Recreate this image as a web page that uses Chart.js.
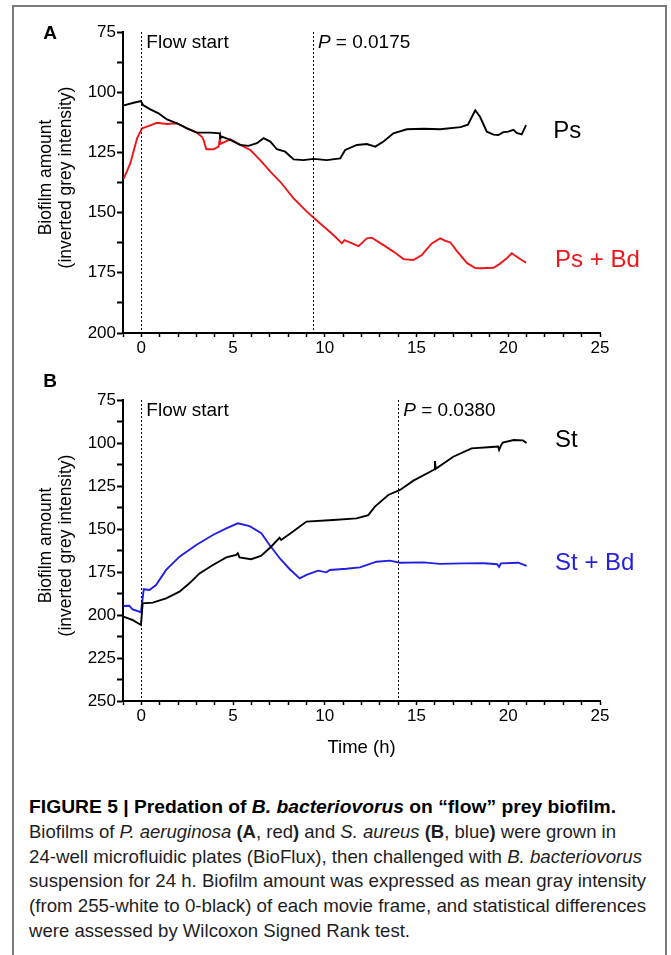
<!DOCTYPE html>
<html>
<head>
<meta charset="utf-8">
<script src="https://cdn.jsdelivr.net/npm/chart.js@4.4.1/dist/chart.umd.min.js"></script>
<style>
  html, body { margin: 0; padding: 0; background: #fff; }
  body { width: 671px; height: 955px; position: relative; overflow: hidden; font-family: "Liberation Sans", Arial, sans-serif; }
  #frame { position: absolute; left: 12px; top: 5px; width: 655px; height: 990px; border: 2px solid #7b7b7b; box-sizing: border-box; }
  canvas { position: absolute; left: 0; }
  #chartA { top: 0; }
  #chartB { top: 366px; }
  #caption { position: absolute; left: 29px; top: 795px; color: #1e1e1e; font-size: 18.5px; }
  #caption .line { height: 24.8px; line-height: 24.8px; white-space: nowrap; }
  #caption .line span.fit { display: inline-block; transform-origin: 0 50%; }
  #caption .title { font-weight: bold; color: #000; }
</style>
</head>
<body>
<div id="frame"></div>
<canvas id="chartA" width="671" height="366"></canvas>
<canvas id="chartB" width="671" height="400"></canvas>
<div id="caption">
  <div class="line title" data-w="587"><span class="fit">FIGURE 5 | Predation of <i>B. bacteriovorus</i> on “flow” prey biofilm.</span></div>
  <div class="line" data-w="587"><span class="fit">Biofilms of <i>P. aeruginosa</i> <b>(A</b>, red<b>)</b> and <i>S. aureus</i> <b>(B</b>, blue<b>)</b> were grown in</span></div>
  <div class="line" data-w="613"><span class="fit">24-well microfluidic plates (BioFlux), then challenged with <i>B. bacteriovorus</i></span></div>
  <div class="line" data-w="617"><span class="fit">suspension for 24 h. Biofilm amount was expressed as mean gray intensity</span></div>
  <div class="line" data-w="617"><span class="fit">(from 255-white to 0-black) of each movie frame, and statistical differences</span></div>
  <div class="line" data-w="381"><span class="fit">were assessed by Wilcoxon Signed Rank test.</span></div>
</div>
<script>
// ---- data ----
// Panel A: P. aeruginosa (Ps) with and without B. bacteriovorus (Bd)
const psTime = [-0.95, -0.42, -0.02, 0.09, 0.49, 0.94, 1.4, 1.94, 2.49, 3.03, 3.76, 4.28, 4.3, 4.32, 4.85, 5.39, 5.84, 6.3, 6.66, 7.03, 7.39, 7.84, 8.3, 8.84, 9.39, 10.1, 10.84, 11.11, 11.75, 12.29, 12.75, 13.2, 13.74, 14.47, 15.4, 16.29, 17.4, 17.8, 18.2, 18.46, 18.83, 19.2, 19.46, 19.73, 20.0, 20.28, 20.46, 20.73, 20.97];
const psValue = [105.5, 104.4, 103.7, 105.3, 107.1, 108.8, 111.3, 112.9, 115, 116.8, 116.8, 117.1, 119.1, 118.2, 119.8, 121.9, 122.3, 121.2, 119.1, 120.5, 123.7, 124.7, 127.9, 128.2, 127.7, 128.2, 127.5, 124, 121.9, 121.5, 122.6, 120.5, 117.1, 115.4, 115.2, 115.4, 114.5, 113.5, 107.5, 110.2, 116.4, 117.6, 117.8, 116.6, 116.4, 115.6, 116.9, 117.5, 113.7];
const psBdTime = [-0.95, -0.6, -0.23, 0.04, 0.31, 0.85, 1.4, 1.94, 2.49, 3.03, 3.3, 3.39, 3.54, 3.94, 4.21, 4.28, 4.3, 4.58, 4.85, 5.39, 5.94, 6.48, 7.03, 7.57, 8.3, 9.02, 9.75, 10.47, 10.93, 11.07, 11.84, 12.29, 12.56, 13.2, 13.74, 14.29, 14.83, 15.29, 15.83, 16.29, 16.6, 16.85, 17.2, 17.76, 18.2, 18.46, 19.19, 19.5, 19.92, 20.19, 20.46, 20.73, 20.97];
const psBdValue = [135.8, 129.5, 119.1, 115, 114.3, 112.7, 113.2, 112.9, 115, 116.8, 118.5, 119.8, 123.7, 123.7, 122.6, 119.2, 121.5, 120.5, 119.6, 121.9, 124, 128.2, 133, 137.2, 144.1, 149.6, 154.5, 159.3, 162.8, 161.4, 163.9, 160.7, 160.4, 163.5, 166.2, 169.3, 169.7, 167.6, 162.8, 160.7, 161.8, 162.4, 166, 171, 173, 173.1, 172.9, 171.5, 169, 166.9, 168.3, 169.7, 170.8];

// Panel B: S. aureus (St) with and without B. bacteriovorus (Bd)
const stTime = [-0.98, -0.48, -0.02, 0.07, 0.62, 1.35, 2.08, 2.62, 3.17, 3.9, 4.63, 5.17, 5.26, 5.35, 5.98, 6.52, 7.07, 7.53, 7.62, 8.25, 9.0, 10.45, 11.73, 12.37, 12.73, 13.46, 14.1, 14.83, 15.92, 15.98, 16.0, 16.05, 17.0, 18.0, 18.9, 19.45, 19.5, 19.6, 19.7, 20.3, 20.8, 21.0];
const stValue = [201, 202.9, 205.8, 193.2, 192.8, 190.3, 186.4, 181.6, 175.8, 170.9, 166.5, 165.1, 164.1, 166.5, 167.6, 165.7, 160.3, 155.1, 156.4, 151.6, 145.7, 144.8, 143.8, 141.9, 137, 130.2, 127.3, 121.9, 115.7, 115.3, 110.5, 115, 108, 103.1, 102.5, 102.1, 104, 101.5, 99.8, 98.3, 98.5, 100];
const stBdTime = [-0.98, -0.66, -0.48, -0.02, 0.13, 0.44, 0.8, 1.35, 2.08, 2.99, 3.9, 4.63, 5.26, 5.9, 6.54, 6.99, 7.54, 8.09, 8.63, 9.0, 9.63, 10.09, 10.27, 11.18, 11.91, 12.82, 13.55, 14.1, 15.37, 16.28, 17.5, 18.7, 19.4, 19.5, 19.6, 20.55, 21.0];
const stBdValue = [194.8, 194.6, 196.7, 198.4, 185, 185.5, 182.6, 173.8, 166.1, 159.3, 153.5, 149.6, 146.7, 148.3, 152.5, 159.3, 167, 173.4, 178.7, 176.7, 174.2, 175.2, 173.8, 173.1, 172.3, 169, 168.4, 169.6, 169.4, 170.3, 170, 169.9, 170.5, 172, 170, 169.6, 171.5];

// dotted event lines (h) and their labels
const markersA = [0, 9.35];
const markerLabelsA = [[["Flow start", false]], [["P", true], [" = 0.0175", false]]];
const markersB = [0, 14];
const markerLabelsB = [[["Flow start", false]], [["P", true], [" = 0.0380", false]]];

// axis ranges / tick labels
const timeRange = [-1, 25];
const timeTickLabels = [0, 5, 10, 15, 20, 25];
const rangeA = [75, 200];
const rangeB = [75, 250];
const yTickLabels = [75, 100, 125, 150, 175, 200, 225, 250];

const seriesNamesA = ["Ps", "Ps + Bd"];
const seriesNamesB = ["St", "St + Bd"];
const yTitle = ["Biofilm amount", "(inverted grey intensity)"];
const xTitle = "Time (h)";

const BLACK = "#000000";
const RED = "rgb(238, 22, 24)";
const BLUE = "rgb(34, 30, 226)";
const FONT = "'Liberation Sans', Arial, sans-serif";

const pairs = (t, v) => t.map((x, i) => ({ x: x, y: v[i] }));

// draws dotted markers, annotations, axis titles and panel letter
const figureLayer = {
  id: "figureLayer",
  afterDraw(chart, args, opts) {
    const { ctx, chartArea, scales } = chart;
    const x = scales.x, y = scales.y;
    ctx.save();

    // dotted vertical lines
    ctx.strokeStyle = "#000";
    ctx.lineWidth = 1;
    ctx.setLineDash([2, 2]);
    opts.markers.forEach((t) => {
      const px = Math.round(x.getPixelForValue(t)) + 0.5;
      ctx.beginPath();
      ctx.moveTo(px, chartArea.top);
      ctx.lineTo(px, chartArea.bottom);
      ctx.stroke();
    });
    ctx.setLineDash([]);

    // marker labels (segments, some italic)
    ctx.fillStyle = "#000";
    ctx.textBaseline = "middle";
    ctx.textAlign = "left";
    opts.markerLabels.forEach((segs, i) => {
      let px = x.getPixelForValue(opts.markers[i]) + 5;
      segs.forEach(([txt, italic]) => {
        ctx.font = (italic ? "italic " : "") + "19px " + FONT;
        ctx.fillText(txt, px, chartArea.top + 11);
        px += ctx.measureText(txt).width;
      });
    });

    // series names next to curves
    ctx.font = "24px " + FONT;
    opts.seriesLabels.forEach((s) => {
      ctx.fillStyle = s.color;
      ctx.fillText(s.text, x.getPixelForValue(s.at[0]), y.getPixelForValue(s.at[1]));
    });

    // y title, two rotated lines
    ctx.fillStyle = "#000";
    ctx.font = "17.5px " + FONT;
    ctx.textAlign = "center";
    const cy = (chartArea.top + chartArea.bottom) / 2 - 5;
    yTitle.forEach((line, i) => {
      ctx.save();
      ctx.translate(chartArea.left - 77 + i * 20, cy);
      ctx.rotate(-Math.PI / 2);
      ctx.fillText(line, 0, 0);
      ctx.restore();
    });

    // x title
    if (opts.xTitle) {
      ctx.font = "18.5px " + FONT;
      ctx.fillText(opts.xTitle, (chartArea.left + chartArea.right) / 2, chartArea.bottom + 47);
    }

    // panel letter
    ctx.font = "bold 19px " + FONT;
    ctx.fillText(opts.letter, 50, opts.letterY);
    ctx.restore();
  },
};

function makePanel(canvasId, cfg) {
  const ctx = document.getElementById(canvasId).getContext("2d");
  return new Chart(ctx, {
    type: "line",
    data: {
      datasets: cfg.series.map((s) => ({
        data: s.data,
        borderColor: s.color,
        borderWidth: 1.9,
        pointRadius: 0,
        fill: false,
        tension: 0,
      })),
    },
    options: {
      responsive: false,
      animation: false,
      events: [],
      layout: { padding: { left: 0, right: 71, top: cfg.padTop, bottom: cfg.padBottom } },
      scales: {
        x: {
          type: "linear",
          min: timeRange[0],
          max: timeRange[1],
          afterFit: (scale) => { scale.height = 28; },
          border: { display: true, color: "#000", width: 2 },
          grid: { display: true, drawOnChartArea: false, drawTicks: true, tickLength: 4, tickColor: "#000", tickWidth: 1.5 },
          ticks: {
            stepSize: 1,
            autoSkip: false,
            maxRotation: 0,
            padding: 1,
            color: "#000",
            font: { family: FONT, size: 17 },
            callback: (v) => (timeTickLabels.includes(v) ? String(v) : ""),
          },
        },
        y: {
          min: cfg.range[0],
          max: cfg.range[1],
          reverse: true,
          afterFit: (scale) => { scale.width = 123; },
          border: { display: true, color: "#000", width: 2 },
          grid: { display: true, drawOnChartArea: false, drawTicks: true, tickLength: 6, tickColor: "#000", tickWidth: 2 },
          ticks: {
            stepSize: 12.5,
            autoSkip: false,
            padding: 1,
            color: "#000",
            font: { family: FONT, size: 17 },
            callback: (v) => (yTickLabels.includes(v) ? String(v) : ""),
          },
        },
      },
      plugins: {
        legend: { display: false },
        tooltip: { enabled: false },
        figureLayer: {
          markers: cfg.markers,
          markerLabels: cfg.markerLabels,
          seriesLabels: cfg.seriesLabels,
          xTitle: cfg.xTitle,
          letter: cfg.letter,
          letterY: cfg.letterY,
        },
      },
    },
    plugins: [figureLayer],
  });
}

makePanel("chartA", {
  range: rangeA,
  padTop: 32,
  padBottom: 5,
  series: [
    { data: pairs(psTime, psValue), color: BLACK },
    { data: pairs(psBdTime, psBdValue), color: RED },
  ],
  markers: markersA,
  markerLabels: markerLabelsA,
  seriesLabels: [
    { text: seriesNamesA[0], color: BLACK, at: [22.45, 116.2] },
    { text: seriesNamesA[1], color: RED, at: [22.55, 169.9] },
  ],
  xTitle: null,
  letter: "A",
  letterY: 34,
});

makePanel("chartB", {
  range: rangeB,
  padTop: 34,
  padBottom: 37,
  series: [
    { data: pairs(stTime, stValue), color: BLACK },
    { data: pairs(stBdTime, stBdValue), color: BLUE },
  ],
  markers: markersB,
  markerLabels: markerLabelsB,
  seriesLabels: [
    { text: seriesNamesB[0], color: BLACK, at: [22.55, 98.3] },
    { text: seriesNamesB[1], color: BLUE, at: [22.55, 169.8] },
  ],
  xTitle: xTitle,
  letter: "B",
  letterY: 16,
});

// stretch each caption line to the width it has in the figure
document.querySelectorAll("#caption .line").forEach((line) => {
  const span = line.querySelector(".fit");
  const w = span.getBoundingClientRect().width;
  const target = parseFloat(line.dataset.w);
  span.style.transform = "scaleX(" + (target / w).toFixed(4) + ")";
});
</script>
</body>
</html>
